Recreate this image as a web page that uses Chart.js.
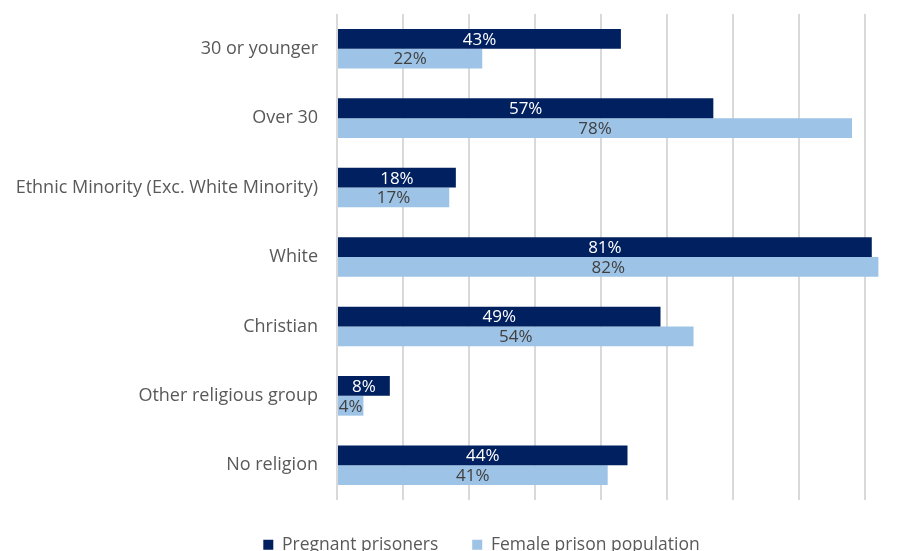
<!DOCTYPE html>
<html>
<head>
<meta charset="utf-8">
<script src="https://cdn.jsdelivr.net/npm/chart.js@4/dist/chart.umd.min.js"></script>
<style>
  html, body { margin: 0; padding: 0; background: #fff; overflow: hidden; }
  #wrap { width: 918px; height: 551px; position: relative; }
</style>
</head>
<body>
<div id="wrap"><canvas id="myCanvas"></canvas></div>
<script>
const categories = [
  '30 or younger',
  'Over 30',
  'Ethnic Minority (Exc. White Minority)',
  'White',
  'Christian',
  'Other religious group',
  'No religion'
];

const pregnant = [43, 57, 18, 81, 49, 8, 44];
const femalePop = [22, 78, 17, 82, 54, 4, 41];

const seriesNames = ['Pregnant prisoners', 'Female prison population'];

// data labels in the middle of each bar
const barLabels = {
  id: 'barLabels',
  afterDatasetsDraw(chart) {
    const ctx = chart.ctx;
    ctx.save();
    ctx.font = '17px "Open Sans"';
    ctx.textAlign = 'center';
    ctx.textBaseline = 'middle';
    chart.data.datasets.forEach((ds, i) => {
      const meta = chart.getDatasetMeta(i);
      ctx.fillStyle = i === 0 ? '#ffffff' : '#404040';
      meta.data.forEach((bar, j) => {
        const x = (bar.x + bar.base) / 2;
        ctx.fillText(ds.data[j] + '%', x, bar.y + 1);
      });
    });
    ctx.restore();
  }
};

// fixed legend height, and move it a bit to the right like the original
const legendTweak = {
  id: 'legendTweak',
  beforeInit(chart) {
    const lg = chart.legend;
    if (!lg) return;
    const fit = lg.fit;
    lg.fit = function () {
      fit.call(this);
      this.height = 51;
    };
  },
  afterLayout(chart) {
    if (chart.legend) {
      chart.legend.left = 45;
      chart.legend.top += 2;
    }
  }
};

const data = {
  labels: categories,
  datasets: [{
    label: seriesNames[0],
    backgroundColor: '#002060',
    data: pregnant
  },
  {
    label: seriesNames[1],
    backgroundColor: '#9dc3e6',
    data: femalePop
  }]
};

const config = {
  type: 'bar',
  data: data,
  options: {
    indexAxis: 'y',
    responsive: true,
    maintainAspectRatio: false,
    animation: false,
    datasets: {
      bar: { categoryPercentage: 0.57, barPercentage: 1.0 }
    },
    layout: { padding: { top: 14, left: 0, right: 0, bottom: 0 } },
    scales: {
      x: {
        min: 0,
        max: 88,
        ticks: { display: false, stepSize: 10 },
        grid: {
          drawTicks: false,
          lineWidth: 2,
          color: c => (c.tick && c.tick.value % 10 === 0) ? '#d9d9d9' : 'rgba(0,0,0,0)'
        },
        border: { display: false }
      },
      y: {
        afterFit: s => {
          s.width = 337;
          s.paddingTop = 0;
          s.paddingBottom = 0;
        },
        grid: { display: false, drawTicks: false },
        border: { display: false },
        ticks: {
          color: '#595959',
          padding: 19,
          font: { family: '"Open Sans"', size: 18 }
        }
      }
    },
    plugins: {
      tooltip: { enabled: false },
      legend: {
        position: 'bottom',
        labels: {
          color: '#595959',
          boxWidth: 10,
          boxHeight: 10,
          padding: 34,
          font: { family: '"Open Sans"', size: 17.5 }
        }
      }
    }
  },
  plugins: [barLabels, legendTweak]
};

const myChart = new Chart(
  document.getElementById('myCanvas'),
  config
);
</script>
</body>
</html>
